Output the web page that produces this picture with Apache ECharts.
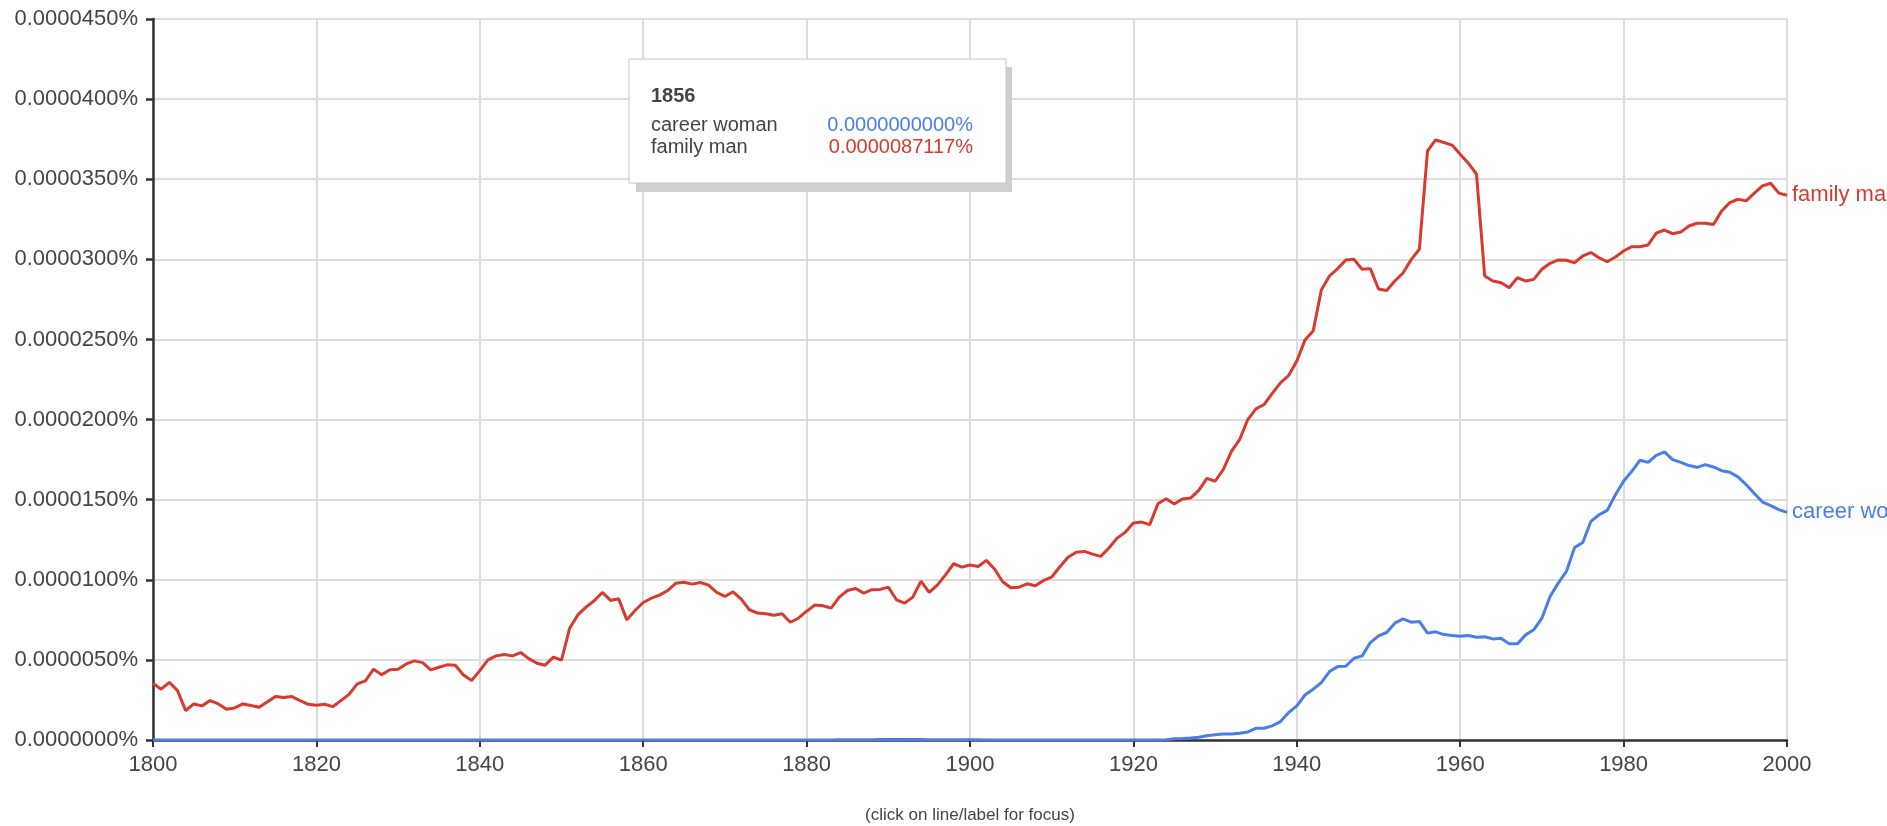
<!DOCTYPE html>
<html>
<head>
<meta charset="utf-8">
<script src="https://cdn.jsdelivr.net/npm/echarts@6/dist/echarts.min.js"></script>
<style>
html,body{margin:0;padding:0;background:#fff;}
#chart{width:1887px;height:826px;}
</style>
</head>
<body>
<div id="chart"></div>
<script>
// Values are in millionths of a percent (1 = 0.000001%)
const startYear = 1800;
const endYear = 2000;
const seriesNames = ['career woman', 'family man'];

const careerWoman = [
  0,0,0,0,0,0,0,0,0,0,
  0,0,0,0,0,0,0,0,0,0,
  0,0,0,0,0,0,0,0,0,0,
  0,0,0,0,0,0,0,0,0,0,
  0,0,0,0,0,0,0,0,0,0,
  0,0,0,0,0,0,0,0,0,0,
  0,0,0,0,0,0,0,0,0,0,
  0,0,0,0,0,0,0,0,0,0,
  0,0,0,0,0.01,0.02,0.02,0.02,0.02,0.03,
  0.03,0.03,0.03,0.03,0.03,0.02,0.02,0.02,0.01,0.01,
  0.01,0.01,0,0,0,0,0,0,0,0,
  0,0,0,0,0,0,0,0,0,0,
  0,0,0,0,0.02,0.08,0.1,0.13,0.17,0.27,
  0.33,0.38,0.38,0.42,0.5,0.73,0.73,0.88,1.15,1.71,
  2.13,2.81,3.17,3.58,4.27,4.58,4.6,5.1,5.25,6.08,
  6.5,6.71,7.29,7.56,7.35,7.4,6.67,6.75,6.58,6.52,
  6.47,6.52,6.41,6.44,6.31,6.35,6.0,6.0,6.56,6.88,
  7.6,8.96,9.79,10.52,12.02,12.33,13.65,14.06,14.33,15.31,
  16.15,16.77,17.46,17.33,17.77,17.98,17.5,17.33,17.13,17.02,
  17.19,17.04,16.81,16.71,16.42,15.94,15.38,14.85,14.63,14.38,
  14.21
];

const familyMan = [
  3.54,3.17,3.6,3.08,1.83,2.25,2.13,2.46,2.25,1.92,
  2.0,2.25,2.15,2.04,2.38,2.71,2.65,2.71,2.46,2.23,
  2.17,2.23,2.08,2.46,2.85,3.5,3.69,4.42,4.08,4.38,
  4.42,4.75,4.94,4.83,4.38,4.54,4.69,4.67,4.06,3.71,
  4.33,5.0,5.25,5.33,5.25,5.46,5.08,4.79,4.67,5.17,
  4.98,6.98,7.81,8.29,8.69,9.21,8.7117,8.81,7.5,8.08,
  8.58,8.85,9.04,9.33,9.79,9.85,9.73,9.83,9.67,9.21,
  8.96,9.25,8.79,8.13,7.92,7.88,7.79,7.88,7.35,7.6,
  8.04,8.42,8.38,8.23,8.92,9.33,9.46,9.17,9.38,9.4,
  9.54,8.75,8.54,8.92,9.92,9.21,9.67,10.31,11.0,10.79,
  10.92,10.83,11.21,10.67,9.88,9.5,9.54,9.75,9.63,9.96,
  10.17,10.81,11.4,11.72,11.77,11.6,11.46,11.98,12.6,12.96,
  13.54,13.6,13.44,14.75,15.06,14.73,15.04,15.1,15.58,16.33,
  16.15,16.88,18.02,18.75,20.0,20.67,20.94,21.63,22.29,22.75,
  23.65,24.96,25.52,28.08,28.96,29.42,29.96,30.0,29.38,29.42,
  28.15,28.05,28.65,29.15,29.98,30.63,36.77,37.46,37.29,37.13,
  36.56,36.0,35.31,28.96,28.65,28.54,28.23,28.85,28.65,28.75,
  29.38,29.75,29.96,29.94,29.79,30.21,30.42,30.1,29.85,30.15,
  30.52,30.79,30.79,30.9,31.63,31.83,31.6,31.7,32.08,32.25,
  32.25,32.17,33.02,33.54,33.75,33.65,34.13,34.58,34.75,34.13,
  34.0
];

const xTicks = { min: 1800, max: 2000, interval: 20 };
const yTicks = { min: 0, max: 45, interval: 5 };
const tooltipYear = 1856;
const noteText = '(click on line/label for focus)';

const colors = ['#4a7ee6', '#d9392e'];
const FONT = 'Liberation Sans';

const years = [];
for (let y = startYear; y <= endYear; y++) years.push(y);
const toPairs = arr => years.map((y, i) => [y, arr[i]]);
const fmtPct = (v, d) => (v / 1e6).toFixed(d) + '%';

const idx = tooltipYear - startYear;

function txt(x, y, text, opts) {
  return {
    type: 'text', x: x, y: y, z: 102,
    style: Object.assign({
      text: text, fontSize: 20, fontFamily: FONT, fontWeight: 'normal',
      fill: '#444', align: 'left', verticalAlign: 'middle'
    }, opts || {})
  };
}

const chart = echarts.init(document.getElementById('chart'), null, { renderer: 'canvas' });
chart.setOption({
  animation: false,
  backgroundColor: '#fff',
  grid: { left: 153, right: 100, top: 19, bottom: 86, containLabel: false },
  xAxis: {
    type: 'value', min: xTicks.min, max: xTicks.max, interval: xTicks.interval,
    axisLine: { show: true, onZero: false, lineStyle: { color: '#333', width: 2.5 } },
    axisTick: { show: true, length: 7, lineStyle: { color: '#333', width: 2 } },
    axisLabel: { color: '#444', fontSize: 22, fontFamily: FONT, margin: 14, formatter: v => String(v) },
    splitLine: { show: true, lineStyle: { color: '#dcdcdc', width: 2 } }
  },
  yAxis: {
    type: 'value', min: yTicks.min, max: yTicks.max, interval: yTicks.interval,
    axisLine: { show: true, lineStyle: { color: '#333', width: 2.5 } },
    axisTick: { show: true, length: 7, lineStyle: { color: '#333', width: 2.5 } },
    axisLabel: { color: '#444', fontSize: 22, fontFamily: FONT, margin: 15, formatter: v => fmtPct(v, 7) },
    splitLine: { show: true, lineStyle: { color: '#dcdcdc', width: 2 } }
  },
  series: [
    {
      name: seriesNames[0], type: 'line', data: toPairs(careerWoman), showSymbol: false,
      lineStyle: { color: colors[0], width: 3 }, itemStyle: { color: colors[0] },
      endLabel: { show: true, formatter: '{a}', color: colors[0], fontSize: 22, fontFamily: FONT, distance: 5 },
      z: 3
    },
    {
      name: seriesNames[1], type: 'line', data: toPairs(familyMan), showSymbol: false,
      lineStyle: { color: colors[1], width: 3 }, itemStyle: { color: colors[1] },
      endLabel: { show: true, formatter: '{a}', color: colors[1], fontSize: 22, fontFamily: FONT, distance: 5 },
      z: 4
    }
  ],
  graphic: [
    {
      type: 'group', x: 629, y: 59, z: 100,
      children: [
        { type: 'rect', z: 100, shape: { x: 7, y: 8, width: 376, height: 125 }, style: { fill: '#cfcfcf' } },
        { type: 'rect', z: 101, shape: { x: 0, y: 0, width: 377, height: 124 }, style: { fill: '#fff', stroke: '#c8c8c8', lineWidth: 1 } },
        txt(22, 37, String(tooltipYear), { fontWeight: 'bold' }),
        txt(22, 66, seriesNames[0]),
        txt(22, 88, seriesNames[1]),
        txt(344, 66, fmtPct(careerWoman[idx], 10), { fill: colors[0], align: 'right' }),
        txt(344, 88, fmtPct(familyMan[idx], 10), { fill: colors[1], align: 'right' })
      ]
    },
    {
      type: 'text', x: 970, y: 815, z: 100,
      style: { text: noteText, fontSize: 17, fontFamily: FONT, fill: '#444', align: 'center', verticalAlign: 'middle' }
    }
  ]
});
</script>
</body>
</html>
